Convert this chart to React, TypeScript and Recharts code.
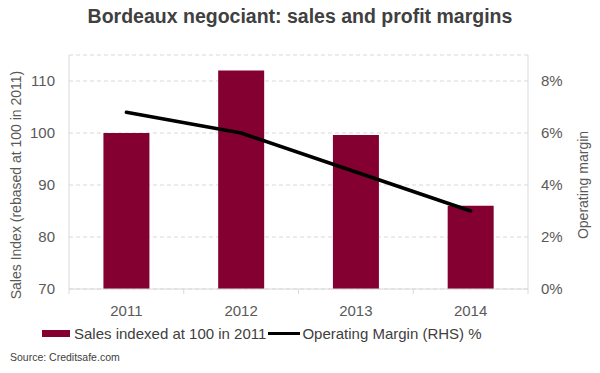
import {
    ComposedChart,
    Bar,
    Line,
    XAxis,
    YAxis,
    CartesianGrid,
} from "recharts";

const years = ["2011", "2012", "2013", "2014"];
const salesIndex = [100, 112, 99.6, 86];
const operatingMargin = [6.8, 6.0, 4.5, 3.0];
const leftTicks = [70, 80, 90, 100, 110];
const rightTicks = [0, 2, 4, 6, 8];

const data = years.map((year, i) => ({
    year,
    sales: salesIndex[i],
    margin: operatingMargin[i],
}));

const FONT = "'Liberation Sans', Arial, sans-serif";
const TEXT = "#595959";
const AXIS = "#d9d9d9";
const BAR = "#840030";

// plot area bounds, used only to place the between-category tick marks
const PLOT_LEFT = 69;
const PLOT_RIGHT = 528;
const STEP = (PLOT_RIGHT - PLOT_LEFT) / years.length;

const YearTick = ({ x, y, payload, index }: any) => {
    return (
        <g>
            <line
                x1={x - STEP / 2}
                x2={x - STEP / 2}
                y1={y}
                y2={y + 5}
                stroke={AXIS}
            />
            {index === years.length - 1 && (
                <line
                    x1={x + STEP / 2}
                    x2={x + STEP / 2}
                    y1={y}
                    y2={y + 5}
                    stroke={AXIS}
                />
            )}
            <text
                x={x}
                y={y + 27}
                textAnchor="middle"
                fill={TEXT}
                fontSize={15}
                fontFamily={FONT}
            >
                {payload.value}
            </text>
        </g>
    );
};

// rotated axis title, centred on a fixed point
const axisTitle = (text: string, cx: number, cy: number) => () =>
    (
        <text
            transform={`translate(${cx},${cy}) rotate(-90)`}
            textAnchor="middle"
            dominantBaseline="central"
            fill={TEXT}
            fontSize={14}
            fontFamily={FONT}
        >
            {text}
        </text>
    );

const App = () => {
    return (
        <div
            style={{
                position: "absolute",
                left: 0,
                top: 0,
                width: 600,
                height: 373,
                background: "#ffffff",
                fontFamily: FONT,
            }}
        >
            {/* Title */}
            <div
                style={{
                    position: "absolute",
                    top: 5,
                    left: 0,
                    width: 600,
                    textAlign: "center",
                    fontSize: 19.5,
                    fontWeight: "bold",
                    color: "#404040",
                }}
            >
                Bordeaux negociant: sales and profit margins
            </div>

            <ComposedChart
                width={600}
                height={373}
                data={data}
                barCategoryGap="30%"
                margin={{ top: 55, right: 0, left: 0, bottom: 54 }}
            >
                <CartesianGrid
                    vertical={false}
                    stroke={AXIS}
                    strokeDasharray="4 3"
                    yAxisId="left"
                />

                <XAxis
                    dataKey="year"
                    height={30}
                    stroke={AXIS}
                    tickLine={false}
                    tickSize={0}
                    tickMargin={0}
                    tick={<YearTick />}
                />

                <YAxis
                    yAxisId="left"
                    width={69}
                    domain={[70, 115]}
                    ticks={leftTicks}
                    stroke={AXIS}
                    tickLine={false}
                    tickMargin={8}
                    tick={{ fill: TEXT, fontSize: 15, fontFamily: FONT }}
                    label={{
                        content: axisTitle(
                            "Sales Index (rebased at 100 in 2011)",
                            16,
                            185
                        ),
                    }}
                />

                <YAxis
                    yAxisId="right"
                    orientation="right"
                    width={72}
                    domain={[0, 9]}
                    ticks={rightTicks}
                    tickFormatter={(v: number) => `${v}%`}
                    stroke={AXIS}
                    tickLine={false}
                    tickMargin={7}
                    tick={{ fill: TEXT, fontSize: 15, fontFamily: FONT }}
                    label={{
                        content: axisTitle("Operating margin", 583, 185),
                    }}
                />

                <Bar
                    yAxisId="left"
                    dataKey="sales"
                    fill={BAR}
                    isAnimationActive={false}
                />

                <Line
                    yAxisId="right"
                    type="linear"
                    dataKey="margin"
                    stroke="#000000"
                    strokeWidth={3.5}
                    strokeLinejoin="round"
                    strokeLinecap="round"
                    dot={false}
                    isAnimationActive={false}
                />
            </ComposedChart>

            {/* Legend */}
            <div
                style={{
                    position: "absolute",
                    top: 325,
                    left: 42,
                    display: "flex",
                    alignItems: "center",
                    fontSize: 15,
                    color: "#404040",
                    whiteSpace: "nowrap",
                }}
            >
                <span
                    style={{
                        display: "inline-block",
                        width: 28,
                        height: 7,
                        background: BAR,
                        marginRight: 4,
                    }}
                />
                <span>Sales indexed at 100 in 2011</span>
                <span
                    style={{
                        display: "inline-block",
                        width: 32,
                        height: 3,
                        background: "#000000",
                        margin: "0 2px",
                    }}
                />
                <span>Operating Margin (RHS) %</span>
            </div>

            {/* Source */}
            <div
                style={{
                    position: "absolute",
                    top: 351,
                    left: 10,
                    fontSize: 10.5,
                    color: "#404040",
                }}
            >
                Source: Creditsafe.com
            </div>
        </div>
    );
};

export default App;
